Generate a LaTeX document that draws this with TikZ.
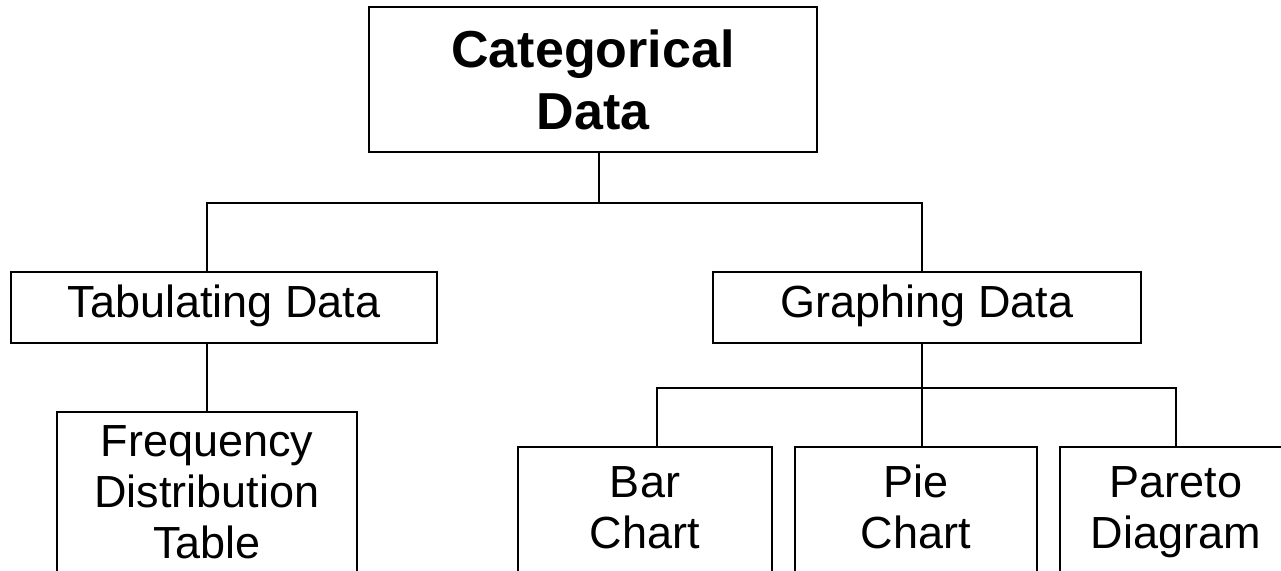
\documentclass[tikz,border=0pt]{standalone}
\usepackage{fontspec}
\setmainfont{Liberation Sans}
\usetikzlibrary{calc}
\tikzset{
  box/.style={draw=black, line width=1.5pt, fill=white, inner sep=0pt},
  lbl/.style={align=center, inner sep=0pt, font=\fontsize{45}{51}\selectfont},
  titlelbl/.style={align=center, inner sep=0pt, font=\fontsize{52}{62}\selectfont\bfseries},
  link/.style={draw=black, line width=2pt, line cap=rect}
}
\begin{document}
\begin{tikzpicture}[x=1pt, y=-1pt]
  \useasboundingbox (0,0) rectangle (1281,570);
  \clip (0,0) rectangle (1281,570);

  % junction points of the tree
  \coordinate (jtop) at (599,203);
  \coordinate (jleft) at (207,203);
  \coordinate (jright) at (922,203);
  \coordinate (jg) at (922,388);
  \coordinate (jbar) at (657,388);
  \coordinate (jpareto) at (1176,388);

  % boxes
  \node[box, minimum width=448pt, minimum height=145pt] (top) at (593,79.5) {};
  \node[box, minimum width=426pt, minimum height=71pt] (tab) at (224,307.5) {};
  \node[box, minimum width=428pt, minimum height=71pt] (graph) at (927,307.5) {};
  \node[box, minimum width=300pt, minimum height=200pt, anchor=north] (freq) at (207,411) {};
  \node[box, minimum width=254pt, minimum height=160pt, anchor=north] (bar) at (645,446) {};
  \node[box, minimum width=242pt, minimum height=160pt, anchor=north] (pie) at (916,446) {};
  \node[box, minimum width=232pt, minimum height=160pt, anchor=north] (pareto) at (1176,446) {};

  % connectors
  \draw[link] (top.south -| jtop) -- (jtop);
  \draw[link] (tab.north -| jleft) -- (jleft) -- (jright) -- (graph.north -| jright);
  \draw[link] (tab.south -| jleft) -- (freq.north -| jleft);
  \draw[link] (graph.south -| jg) -- (jg);
  \draw[link] (bar.north -| jbar) -- (jbar) -- (jpareto) -- (pareto.north -| jpareto);
  \draw[link] (jg) -- (pie.north -| jg);

  % labels
  \node[titlelbl] (toptxt) at (top.center) {Categorical\\Data};
  \node[lbl] (tabtxt) at (tab.center) {\strut Tabulating Data};
  \node[lbl] (graphtxt) at (graph.center) {\strut Graphing Data};
  \node[lbl] (freqtxt) at ($(freq.north)+(0,86)$) {\strut Frequency\\\strut Distribution\\\strut Table};
  \node[lbl] (bartxt) at ($(bar.north)+(0,66.3)$) {\strut Bar\\\strut Chart};
  \node[lbl] (pietxt) at ($(pie.north)+(0,66.3)$) {\strut Pie\\\strut Chart};
  \node[lbl] (paretotxt) at ($(pareto.north)+(0,66.3)$) {\strut Pareto\\\strut Diagram};
\end{tikzpicture}
\end{document}
